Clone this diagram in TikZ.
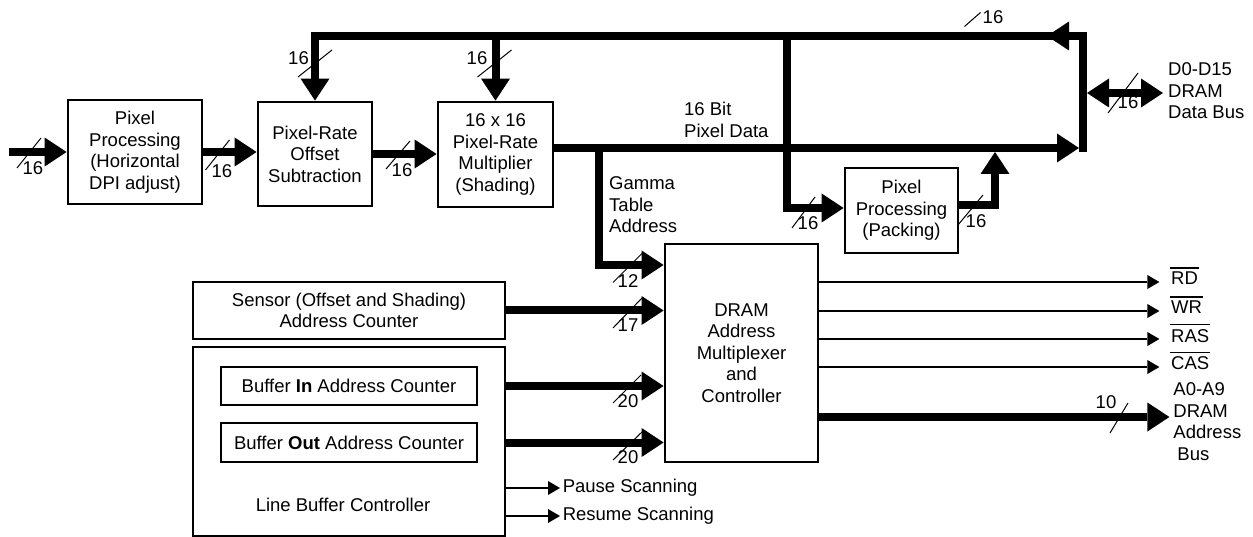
\documentclass[tikz,border=0pt]{standalone}
\usepackage{fontspec}
\setmainfont{Liberation Sans}
\usetikzlibrary{arrows.meta,calc}
\tikzset{
  bushead/.tip={Triangle[length=22pt,width=29pt,line width=0pt]},
  sighead/.tip={Triangle[length=12pt,width=14pt,line width=0pt]}
}
\begin{document}
\begin{tikzpicture}[x=1pt,y=-1pt,
  font=\fontsize{18.5}{21.5}\selectfont,
  box/.style={draw,line width=2.8pt,align=center,inner sep=0pt},
  bus/.style={line width=8pt,-bushead},
  sig/.style={line width=1.5pt,-sighead},
  tick/.style={line width=1pt},
  num/.style={inner sep=0pt}]
\useasboundingbox (0,0) rectangle (1253,537);

% blocks
\node[box,minimum width=134pt,minimum height=104pt] (pph) at (135,152) {Pixel\\Processing\\(Horizontal\\DPI adjust)};
\node[box,minimum width=114pt,minimum height=104pt] (offs) at (315,154) {Pixel-Rate\\Offset\\Subtraction};
\node[box,minimum width=115pt,minimum height=105pt] (mult) at (495.5,154.5) {16 x 16\\Pixel-Rate\\Multiplier\\(Shading)};
\node[box,minimum width=113pt,minimum height=85pt] (pack) at (901.5,210.5) {Pixel\\Processing\\(Packing)};
\node[box,minimum width=153pt,minimum height=218pt] (mux) at (741.5,353) {DRAM\\Address\\Multiplexer\\and\\Controller};
\node[box,minimum width=312pt,minimum height=57pt] (sensor) at (349,310.5) {Sensor (Offset and Shading)\\Address Counter};
\node[box,minimum width=312pt,minimum height=189pt] (lbc) at (349,441.5) {};
\node[box,minimum width=256pt,minimum height=38pt] (bin) at (349,386) {Buffer \textbf{In} Address Counter};
\node[box,minimum width=256pt,minimum height=39pt] (bout) at (349,442.5) {Buffer \textbf{Out} Address Counter};
\node (lbcl) at (343,505) {Line Buffer Controller};

% bus junctions
\coordinate (inp) at (9,152);
\coordinate (tr) at (1083,36);
\coordinate (br) at (1083,152);
\coordinate (th) at (1047,36);
\coordinate (pj) at (787,36);
\coordinate (pd) at (mult.east |- 0,148);
\coordinate (gj) at (599,148);
\coordinate (pk) at (995,152);
\coordinate (dj) at (1083,93);

% pixel path
\draw[bus] (inp) -- (pph.west);
\draw[bus] (pph.east) -- (pph.east -| offs.west);
\draw[bus] (offs.east) -- (offs.east -| mult.west);
\draw[bus] (br) -- (tr) -- (offs.north |- tr) -- (offs.north);
\draw[bus] (tr) -- (th);
\draw[bus] (mult.north |- tr) -- (mult.north);
\draw[bus,shorten >=4pt] (pd) -- (pd -| br);
\draw[bus] (pj) |- (pack.west |- 0,208);
\draw[bus] (pack.east |- 0,205) -| (pk);
\draw[bus] (gj) |- (mux.west |- 0,265);

% DRAM data bus
\node[anchor=west,align=left,inner sep=0pt] (dbus) at (1168,91) {D0-D15\\DRAM\\Data Bus};
\draw[bus,bushead-bushead,shorten <=4pt,shorten >=5pt] (dj) -- (dj -| dbus.west);

% address sources
\draw[bus] (sensor.east) -- (sensor.east -| mux.west);
\draw[bus] (bin.east -| lbc.east) -- (bin.east -| mux.west);
\draw[bus] (bout.east -| lbc.east) -- (bout.east -| mux.west);

% DRAM control and address
\foreach \y/\s in {282/RD,311/WR,339/RAS,367/CAS}
{
  \draw[sig] (mux.east |- 0,\y) -- ++(340,0)
    node[anchor=base west,inner sep=0pt,xshift=11pt,yshift=-3pt] (\s) {\s};
  \draw[line width=1.2pt] ([yshift=3.5pt]\s.north west) -- ([yshift=3.5pt]\s.north east);
}
\draw[bus] (mux.east |- 0,417) -- ++(350,0)
  node[anchor=west,inner sep=0pt,align=left,yshift=-4.5pt] (abus) {A0-A9\\DRAM\\Address\\\hspace*{4pt}Bus};

% scanning control
\draw[sig] (lbc.east |- 0,488) -- (560,488) node[anchor=west,inner sep=0pt,xshift=2pt] (pause) {Pause Scanning};
\draw[sig] (lbc.east |- 0,516) -- (560,516) node[anchor=west,inner sep=0pt,xshift=2pt] (resume) {Resume Scanning};

% text labels
\node[anchor=west,align=left,inner sep=0pt] (pdl) at (684,120) {16 Bit\\Pixel Data};
\node[anchor=west,align=left,inner sep=0pt] (gta) at (609,205) {Gamma\\Table\\Address};

% bus width marks
\foreach \x/\y/\dx/\dy/\lx/\ly/\t [count=\i] in {
  29/153/12/15/33/168/16, 217.5/155/12/15/222/171/16, 398/155/12/14/402/170/16,
  315/63.5/17/13.5/298.5/58/16, 494.5/63.5/17/13.5/477/58/16, 972.5/19.5/8/7/993/17/16,
  627.5/268/14.5/14.5/628/281/12, 627.5/313/14.5/15/628/325/17,
  627/389/14/14/628/401.5/20, 627.5/446/14.5/14/628/457.5/20,
  803.5/212.5/11.5/15.5/808/223.5/16, 970.5/210/12.5/15/976/221/16,
  1123/93/15/20/1128/102/16, 1119/418/9/15/1106/402/10}
{
  \draw[tick] (\x-\dx,\y+\dy) -- (\x+\dx,\y-\dy);
  \node[num] (w\i) at (\lx,\ly) {\t};
}
\end{tikzpicture}
\end{document}
